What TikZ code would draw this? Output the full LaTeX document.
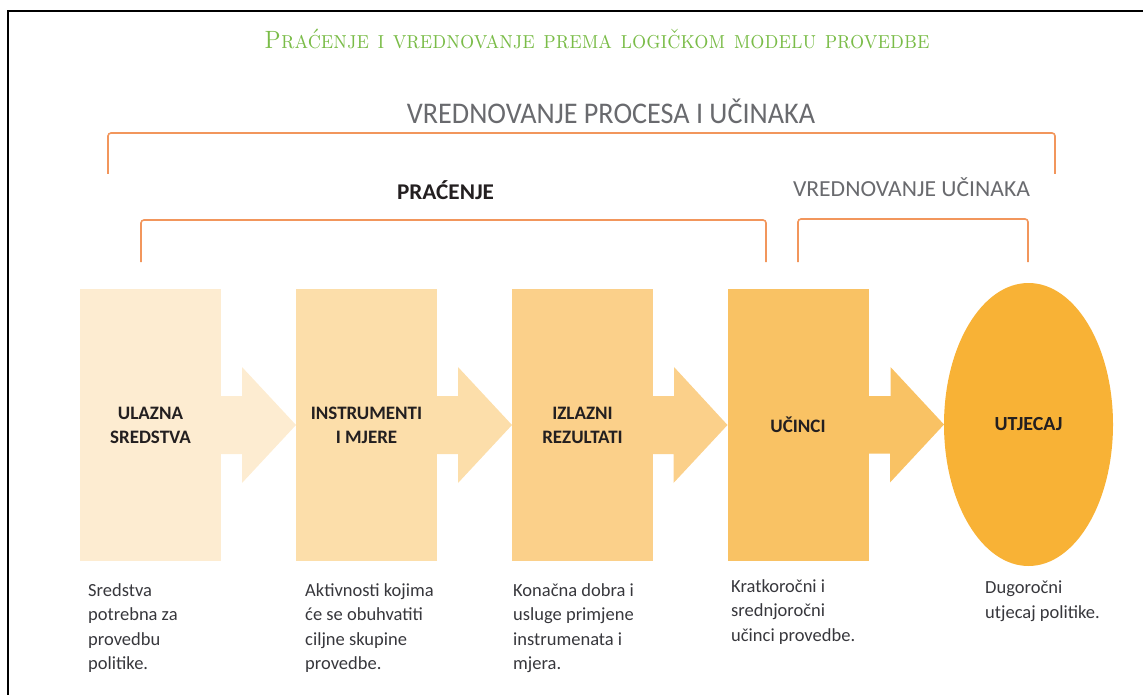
\documentclass[tikz,border=0pt]{standalone}
\usepackage{fontspec}
\usepackage{graphicx}
\newfontfamily\carl{Carlito}
\usetikzlibrary{shapes.geometric}
\definecolor{titlegreen}{RGB}{122,188,72}
\definecolor{headgray}{RGB}{105,106,110}
\definecolor{brk}{RGB}{242,150,92}
\definecolor{cA}{RGB}{253,236,209}
\definecolor{cB}{RGB}{252,222,170}
\definecolor{cC}{RGB}{251,208,138}
\definecolor{cD}{RGB}{249,194,100}
\definecolor{cE}{RGB}{248,178,54}
\definecolor{lbl}{RGB}{35,31,32}
\definecolor{desc}{RGB}{55,55,60}
\begin{document}
\begin{tikzpicture}[x=1pt,y=-1pt,
  stagebox/.style={rectangle,minimum width=141pt,minimum height=272pt,inner sep=0pt,outer sep=0pt,
    align=center,text=lbl,font=\carl\bfseries\fontsize{19}{24}\selectfont},
  impact/.style={ellipse,minimum width=169pt,minimum height=283pt,inner sep=0pt,outer sep=0pt,
    align=center,text=lbl,font=\carl\bfseries\fontsize{20}{24}\selectfont},
  bracketline/.style={draw=brk,line width=1.6pt,rounded corners=3pt},
  desctext/.style={anchor=north west,inner sep=0pt,align=left,text=desc,font=\carl\fontsize{18.5}{24.5}\selectfont}]
\useasboundingbox (0,0) rectangle (1143,695);
% frame
\draw[line width=2pt,black] (8,695) -- (8,11) -- (1143,11);
% title
\node[anchor=base,inner sep=0pt,text=titlegreen] (title) at (597,49)
  {\resizebox{665pt}{\height}{\fontsize{25}{28}\selectfont\addfontfeature{FakeBold=1.2}\textsc{Praćenje i vrednovanje prema logičkom modelu provedbe}}};
% headings
\node[anchor=base,inner sep=0pt,text=headgray] (hproc) at (611,124)
  {\resizebox{408pt}{\height}{\carl\fontsize{30}{34}\selectfont VREDNOVANJE PROCESA I UČINAKA}};
\node[anchor=base,inner sep=0pt,text=lbl] (hprac) at (445.5,200)
  {\resizebox{97pt}{\height}{\carl\bfseries\fontsize{22.5}{26}\selectfont PRAĆENJE}};
\node[anchor=base,inner sep=0pt,text=headgray] (hucin) at (911.5,197)
  {\resizebox{237pt}{\height}{\carl\fontsize{23}{26}\selectfont VREDNOVANJE UČINAKA}};
% brackets
\draw[bracketline] (108,174) -- (108,133) -- (1055,133) -- (1055,174);
\draw[bracketline] (141,262) -- (141,220) -- (766,220) -- (766,262);
\draw[bracketline] (798,262) -- (798,219) -- (1028,219) -- (1028,262);
% stages
\node[stagebox,fill=cA] (b1) at (150.5,425) {ULAZNA\\SREDSTVA};
\node[stagebox,fill=cB] (b2) at (366.5,425) {INSTRUMENTI\\I MJERE};
\node[stagebox,fill=cC] (b3) at (582.5,425) {IZLAZNI\\REZULTATI};
\node[stagebox,fill=cD] (b4) at (798,425) {UČINCI};
\node[impact,fill=cE] (e5) at (1028.5,424.5) {UTJECAJ};
% arrows
\fill[cA] (b1.east) ++(0,-29) -- ++(21,0) -- ++(0,-29) -- (b2.west) -- ++(-54,58) -- ++(0,-29) -- ++(-21,0) -- cycle;
\fill[cB] (b2.east) ++(0,-29) -- ++(21,0) -- ++(0,-29) -- (b3.west) -- ++(-54,58) -- ++(0,-29) -- ++(-21,0) -- cycle;
\fill[cC] (b3.east) ++(0,-29) -- ++(21,0) -- ++(0,-29) -- (b4.west) -- ++(-54,58) -- ++(0,-29) -- ++(-21,0) -- cycle;
\fill[cD] (b4.east) ++(0,-29) -- ++(22,0) -- ++(0,-29) -- (e5.west) -- ++(-54,58) -- ++(0,-29) -- ++(-22,0) -- cycle;
% descriptions
\node[desctext] (d1) at (88,583) {Sredstva\\potrebna za\\provedbu\\politike.};
\node[desctext] (d2) at (305,583) {Aktivnosti kojima\\će se obuhvatiti\\ciljne skupine\\provedbe.};
\node[desctext] (d3) at (513,583) {Konačna dobra i\\usluge primjene\\instrumenata i\\mjera.};
\node[desctext] (d4) at (731,579) {Kratkoročni i\\srednjoročni\\učinci provedbe.};
\node[desctext] (d5) at (985,581) {Dugoročni\\utjecaj politike.};
\end{tikzpicture}
\end{document}
